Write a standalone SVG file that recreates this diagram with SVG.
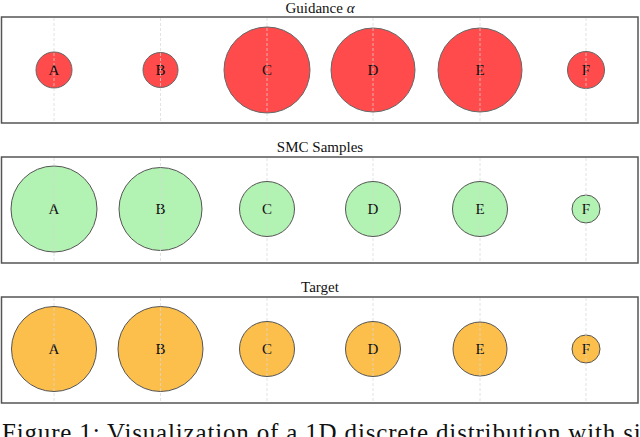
<svg xmlns="http://www.w3.org/2000/svg" width="640" height="437" viewBox="0 0 640 437">
<style>
.panel{fill:#fff;stroke:#555;stroke-width:1.5}
.title{font-family:"Liberation Serif","Times New Roman",serif;font-size:15px;fill:#111;text-anchor:middle}
.lbl{font-family:"Liberation Serif","Times New Roman",serif;font-size:15px;fill:#111;text-anchor:middle;dominant-baseline:central}
.grid{stroke:#d8d8d8;stroke-width:1;stroke-dasharray:3 2;opacity:0.7}
.red{fill:#ff4b4b;stroke:#666;stroke-width:1}
.green{fill:#b2f2b2;stroke:#555;stroke-width:1}
.orange{fill:#fdbf4c;stroke:#555;stroke-width:1}
.cap{font-family:"Liberation Serif","Times New Roman",serif;font-size:25px;fill:#111}
</style>

<!-- Panel 1: Guidance alpha -->
<g id="panel-guidance">
<text class="title" x="320" y="13">Guidance <tspan font-style="italic">α</tspan></text>
<rect class="panel" x="1.5" y="17" width="636.5" height="106"/>
</g>
<g id="g-A"><circle class="red" cx="54" cy="70" r="18"/><text class="lbl" x="54" y="70">A</text></g>
<g id="g-B"><circle class="red" cx="160.5" cy="70" r="17.5"/><text class="lbl" x="160.5" y="70">B</text></g>
<g id="g-C"><circle class="red" cx="267" cy="70" r="43"/><text class="lbl" x="267" y="70">C</text></g>
<g id="g-D"><circle class="red" cx="373" cy="70" r="42"/><text class="lbl" x="373" y="70">D</text></g>
<g id="g-E"><circle class="red" cx="480" cy="70" r="42"/><text class="lbl" x="480" y="70">E</text></g>
<g id="g-F"><circle class="red" cx="586" cy="70" r="18.5"/><text class="lbl" x="586" y="70">F</text></g>

<!-- Panel 2: SMC Samples -->
<g id="panel-smc">
<text class="title" x="320" y="152">SMC Samples</text>
<rect class="panel" x="1.5" y="157" width="636.5" height="106"/>
</g>
<g id="s-A"><circle class="green" cx="54" cy="209" r="43"/><text class="lbl" x="54" y="209">A</text></g>
<g id="s-B"><circle class="green" cx="160.5" cy="209" r="41.5"/><text class="lbl" x="160.5" y="209">B</text></g>
<g id="s-C"><circle class="green" cx="267" cy="209" r="27.5"/><text class="lbl" x="267" y="209">C</text></g>
<g id="s-D"><circle class="green" cx="373" cy="209" r="27.5"/><text class="lbl" x="373" y="209">D</text></g>
<g id="s-E"><circle class="green" cx="480" cy="209" r="27.5"/><text class="lbl" x="480" y="209">E</text></g>
<g id="s-F"><circle class="green" cx="586" cy="209" r="14"/><text class="lbl" x="586" y="209">F</text></g>

<!-- Panel 3: Target -->
<g id="panel-target">
<text class="title" x="320" y="292">Target</text>
<rect class="panel" x="1.5" y="297" width="636.5" height="106"/>
</g>
<g id="t-A"><circle class="orange" cx="54" cy="349" r="42.5"/><text class="lbl" x="54" y="349">A</text></g>
<g id="t-B"><circle class="orange" cx="160.5" cy="349" r="42.5"/><text class="lbl" x="160.5" y="349">B</text></g>
<g id="t-C"><circle class="orange" cx="267" cy="349" r="27.5"/><text class="lbl" x="267" y="349">C</text></g>
<g id="t-D"><circle class="orange" cx="373" cy="349" r="27.5"/><text class="lbl" x="373" y="349">D</text></g>
<g id="t-E"><circle class="orange" cx="480" cy="349" r="27"/><text class="lbl" x="480" y="349">E</text></g>
<g id="t-F"><circle class="orange" cx="586" cy="349" r="14"/><text class="lbl" x="586" y="349">F</text></g>

<!-- grid lines -->
<g id="gridlines">
<path class="grid" d="M54 18V122M160.5 18V122M267 18V122M373 18V122M480 18V122M586 18V122"/>
<path class="grid" d="M54 158V262M160.5 158V262M267 158V262M373 158V262M480 158V262M586 158V262"/>
<path class="grid" d="M54 298V402M160.5 298V402M267 298V402M373 298V402M480 298V402M586 298V402"/>
</g>

<g id="connectors"/>

<text class="cap" x="2" y="441" textLength="652" lengthAdjust="spacing">Figure 1: Visualization of a 1D discrete distribution with six</text>
</svg>
